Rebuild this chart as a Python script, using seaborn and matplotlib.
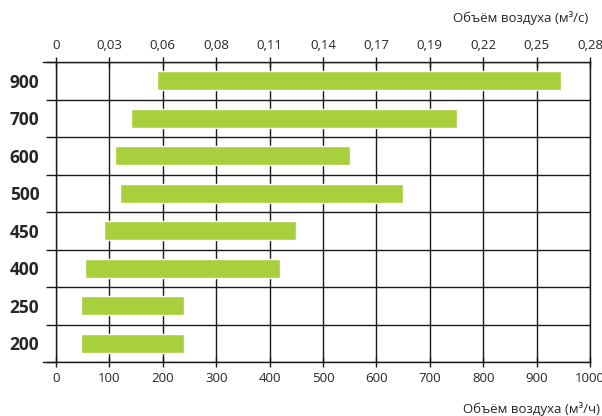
import matplotlib
matplotlib.use("Agg")
import matplotlib.pyplot as plt
import seaborn as sns
import pandas as pd

# типоразмер, начало и конец диапазона расхода воздуха (м3/ч)
sizes = ["900", "700", "600", "500", "450", "400", "250", "200"]
flow_min = [190, 140, 110, 120, 90, 55, 47, 47]
flow_max = [945, 750, 550, 650, 450, 420, 240, 240]

x_ticks = [0, 100, 200, 300, 400, 500, 600, 700, 800, 900, 1000]
top_labels = ["0", "0,03", "0,06", "0,08", "0,11", "0,14", "0,17", "0,19", "0,22", "0,25", "0,28"]

df = pd.DataFrame({"size": sizes, "start": flow_min,
                   "span": [b - a for a, b in zip(flow_min, flow_max)]})

sns.set_theme(style="white")
plt.rcParams["font.family"] = ["Open Sans", "DejaVu Sans"]
line_c = "#1a1a1a"

fig = plt.figure(figsize=(6.02, 4.16), dpi=100)
ax = fig.add_axes([56 / 602, 1 - 362 / 416, 534 / 602, 300 / 416])

sns.barplot(data=df, x="span", y="size", left=df["start"].values, order=sizes,
            color="#a8cf3c", saturation=1, width=0.5, ax=ax, zorder=3)

ax.set_xlim(0, 1000)
ax.set_ylim(len(sizes) - 0.5, -0.5)
ax.set_xticks(x_ticks)
ax.set_xticklabels([str(t) for t in x_ticks], fontsize=9.5)
ax.set_yticks(range(len(sizes)))
ax.set_yticklabels(sizes, fontsize=12.5, fontweight="bold")
ax.set_yticks([i + 0.5 for i in range(-1, len(sizes))], minor=True)

ax.grid(True, axis="x", which="major", color=line_c, lw=1, zorder=0)
ax.grid(True, axis="y", which="minor", color=line_c, lw=1, zorder=0)
ax.set_axisbelow(True)

ax.tick_params(axis="x", which="major", direction="inout", length=7, width=1,
               color=line_c, pad=4, bottom=True)
ax.tick_params(axis="y", which="major", length=0, pad=12)
ax.tick_params(axis="y", which="minor", direction="out", length=7, width=1,
               color=line_c, left=True)

for name, sp in ax.spines.items():
    sp.set_color(line_c)
    sp.set_linewidth(1)
ax.spines["bottom"].set_bounds(-25, 1000)
ax.spines["top"].set_bounds(-25, 1000)

ax.set_xlabel("")
ax.set_ylabel("")

top = ax.twiny()
top.set_xlim(ax.get_xlim())
top.set_xticks(x_ticks)
top.set_xticklabels(top_labels, fontsize=9.5)
top.tick_params(axis="x", direction="inout", length=7, width=1, color=line_c, pad=4)
for sp in top.spines.values():
    sp.set_visible(False)

fig.text(588 / 602, 1 - 18 / 416, "Объём воздуха (м³/с)", ha="right", va="center", fontsize=9.5)
fig.text(600 / 602, 1 - 409 / 416, "Объём воздуха (м³/ч)", ha="right", va="center", fontsize=9.5)

fig.savefig("out.png", dpi=100)
